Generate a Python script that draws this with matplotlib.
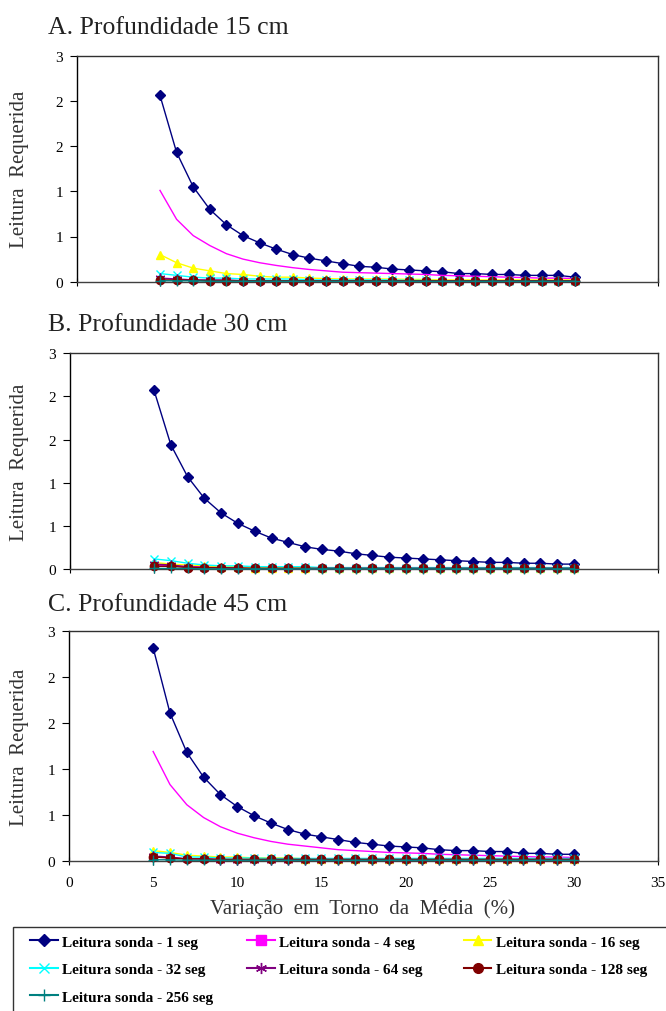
import numpy as np
import matplotlib
matplotlib.use("Agg")
import matplotlib.pyplot as plt
from matplotlib.lines import Line2D
from matplotlib.patches import Rectangle
from matplotlib.ticker import FuncFormatter, MultipleLocator

plt.rcParams['font.family'] = ['Liberation Serif', 'DejaVu Serif']

# ---------------- data ----------------
X = [5, 6, 7, 8, 9, 10, 11, 12, 13, 14, 15, 16, 17, 18, 19, 20,
     21, 22, 23, 24, 25, 26, 27, 28, 29, 30]

series_names = ["Leitura sonda - 1 seg", "Leitura sonda - 4 seg", "Leitura sonda - 16 seg",
                "Leitura sonda - 32 seg", "Leitura sonda - 64 seg", "Leitura sonda - 128 seg",
                "Leitura sonda - 256 seg"]

panel_titles = ["A. Profundidade 15 cm", "B. Profundidade 30 cm", "C. Profundidade 45 cm"]

# Panel A - 15 cm
A_1 = [2.06, 1.43, 1.05, 0.80, 0.63, 0.51, 0.43, 0.36, 0.30, 0.26, 0.23, 0.20, 0.17, 0.16, 0.14, 0.13,
       0.12, 0.11, 0.09, 0.09, 0.08, 0.08, 0.07, 0.07, 0.07, 0.05]
A_4 = [1.01, 0.69, 0.51, 0.40, 0.31, 0.25, 0.21, 0.18, 0.155, 0.135, 0.12, 0.105, 0.10, 0.095, 0.09, 0.085,
       0.08, 0.07, 0.065, 0.06, 0.055, 0.05, 0.045, 0.04, 0.04, 0.035]
A_16 = [0.30, 0.21, 0.15, 0.12, 0.09, 0.08, 0.06, 0.05, 0.05, 0.04, 0.035, 0.03, 0.03, 0.03, 0.03, 0.025,
        0.025, 0.02, 0.02, 0.02, 0.02, 0.02, 0.02, 0.02, 0.02, 0.02]
A_32 = [0.09, 0.07, 0.05, 0.04, 0.04, 0.03, 0.03, 0.03, 0.03, 0.02, 0.02, 0.02, 0.02, 0.02, 0.02, 0.015,
        0.015, 0.01, 0.01, 0.01, 0.01, 0.01, 0.01, 0.01, 0.01, 0.01]
A_64 = [0.04, 0.03, 0.02, 0.02, 0.02, 0.01, 0.01, 0.01, 0.01, 0.01, 0.01, 0.01, 0.01, 0.01, 0.01, 0.01,
        0.01, 0.01, 0.01, 0.01, 0.01, 0.01, 0.01, 0.01, 0.01, 0.01]
A_128 = [0.02, 0.02, 0.015, 0.01, 0.01, 0.01, 0.01, 0.01, 0.01, 0.01, 0.01, 0.01, 0.01, 0.01, 0.01, 0.01,
         0.01, 0.01, 0.01, 0.01, 0.01, 0.01, 0.01, 0.01, 0.01, 0.01]
A_256 = [0.01, 0.01, 0.01, 0.005, 0.005, 0.005, 0.005, 0.005, 0.005, 0.005, 0.005, 0.005, 0.005, 0.005, 0.005, 0.005,
         0.005, 0.005, 0.005, 0.005, 0.005, 0.005, 0.005, 0.005, 0.005, 0.005]

# Panel B - 30 cm
B_1 = [2.07, 1.44, 1.07, 0.82, 0.65, 0.53, 0.44, 0.36, 0.31, 0.26, 0.23, 0.21, 0.18, 0.16, 0.14, 0.13,
       0.12, 0.11, 0.10, 0.09, 0.08, 0.08, 0.07, 0.07, 0.06, 0.06]
B_4 = [0.05, 0.04, 0.03, 0.03, 0.02, 0.02, 0.02, 0.01, 0.01, 0.01, 0.01, 0.01, 0.01, 0.01, 0.01, 0.01,
       0.01, 0.01, 0.01, 0.01, 0.01, 0.01, 0.01, 0.01, 0.01, 0.01]
B_16 = [0.08, 0.06, 0.05, 0.04, 0.03, 0.03, 0.02, 0.02, 0.02, 0.02, 0.015, 0.015, 0.015, 0.015, 0.015, 0.015,
        0.015, 0.015, 0.015, 0.015, 0.015, 0.015, 0.015, 0.015, 0.015, 0.015]
B_32 = [0.12, 0.10, 0.07, 0.05, 0.04, 0.04, 0.03, 0.03, 0.03, 0.03, 0.02, 0.02, 0.02, 0.02, 0.02, 0.02,
        0.02, 0.02, 0.02, 0.02, 0.02, 0.02, 0.02, 0.02, 0.02, 0.02]
B_64 = [0.06, 0.05, 0.03, 0.02, 0.02, 0.01, 0.01, 0.01, 0.01, 0.01, 0.01, 0.01, 0.01, 0.01, 0.01, 0.01,
        0.01, 0.01, 0.01, 0.01, 0.01, 0.01, 0.01, 0.01, 0.01, 0.01]
B_128 = [0.035, 0.035, 0.02, 0.02, 0.015, 0.015, 0.01, 0.01, 0.01, 0.01, 0.01, 0.01, 0.01, 0.01, 0.01, 0.01,
         0.01, 0.01, 0.01, 0.01, 0.01, 0.01, 0.01, 0.01, 0.01, 0.01]
B_256 = [0.01, 0.01, 0.01, 0.005, 0.005, 0.005, 0.005, 0.005, 0.005, 0.005, 0.005, 0.005, 0.005, 0.005, 0.005, 0.005,
         0.005, 0.005, 0.005, 0.005, 0.005, 0.005, 0.005, 0.005, 0.005, 0.005]

# Panel C - 45 cm
C_1 = [2.32, 1.61, 1.18, 0.91, 0.72, 0.59, 0.49, 0.41, 0.34, 0.29, 0.26, 0.23, 0.20, 0.18, 0.16, 0.15,
       0.14, 0.12, 0.11, 0.11, 0.10, 0.10, 0.08, 0.08, 0.07, 0.07]
C_4 = [1.19, 0.83, 0.61, 0.47, 0.37, 0.30, 0.25, 0.21, 0.18, 0.16, 0.14, 0.12, 0.11, 0.10, 0.09, 0.085,
       0.08, 0.07, 0.065, 0.06, 0.055, 0.05, 0.045, 0.04, 0.04, 0.035]
C_16 = [0.11, 0.09, 0.06, 0.05, 0.04, 0.04, 0.03, 0.03, 0.03, 0.02, 0.02, 0.02, 0.02, 0.02, 0.02, 0.02,
        0.02, 0.02, 0.02, 0.02, 0.02, 0.02, 0.02, 0.02, 0.02, 0.02]
C_32 = [0.09, 0.08, 0.04, 0.04, 0.03, 0.03, 0.03, 0.025, 0.025, 0.025, 0.025, 0.025, 0.025, 0.025, 0.025, 0.025,
        0.025, 0.025, 0.025, 0.025, 0.025, 0.025, 0.025, 0.025, 0.025, 0.025]
C_64 = [0.05, 0.04, 0.02, 0.02, 0.01, 0.01, 0.01, 0.01, 0.01, 0.01, 0.01, 0.01, 0.01, 0.01, 0.01, 0.01,
        0.01, 0.01, 0.01, 0.01, 0.01, 0.01, 0.01, 0.01, 0.01, 0.01]
C_128 = [0.04, 0.03, 0.02, 0.02, 0.015, 0.015, 0.015, 0.015, 0.015, 0.015, 0.015, 0.015, 0.015, 0.015, 0.015, 0.015,
         0.015, 0.015, 0.015, 0.015, 0.015, 0.015, 0.015, 0.015, 0.015, 0.015]
C_256 = [0.01, 0.01, 0.005, 0.005, 0.005, 0.005, 0.005, 0.005, 0.005, 0.005, 0.005, 0.005, 0.005, 0.005, 0.005, 0.005,
         0.005, 0.005, 0.005, 0.005, 0.005, 0.005, 0.005, 0.005, 0.005, 0.005]

panels = [
    [A_1, A_4, A_16, A_32, A_64, A_128, A_256],
    [B_1, B_4, B_16, B_32, B_64, B_128, B_256],
    [C_1, C_4, C_16, C_32, C_64, C_128, C_256],
]

# ---------------- styles ----------------
colors = ['#000080', '#FF00FF', '#FFFF00', '#00FFFF', '#800080', '#800000', '#008080']
markers = ['D', 's', '^', 'x', (6, 2, 0), 'o', '+']
plot_markers = [True, False, True, True, True, True, True]
msizes = [5.5, 6, 6, 6, 7, 6, 7]

W, H = 666, 1012
fig = plt.figure(figsize=(W / 100, H / 100), dpi=100)

# axes boxes in pixels: left, right, top, bottom
boxes = [(77, 658, 56.7, 282.7), (70, 658, 354, 570.3), (69, 658, 632.3, 861.7)]
title_baselines = [34, 331, 611]

def fmt(v, pos):
    return str(int(np.floor(v + 0.5 + 1e-9)))

for i, (data, box) in enumerate(zip(panels, boxes)):
    l, r, t, b = box
    ax = fig.add_axes([l / W, 1 - b / H, (r - l) / W, (b - t) / H])
    for j, ys in enumerate(data):
        kw = dict(color=colors[j], lw=1.0, zorder=2 + j, clip_on=False)
        if plot_markers[j]:
            m = markers[j]
            if m in ('x', '+', (6, 2, 0)):
                kw.update(marker=m, markersize=msizes[j], markeredgewidth=1.0)
            else:
                kw.update(marker=m, markersize=msizes[j], markerfacecolor=colors[j],
                          markeredgecolor=colors[j])
        ax.plot(X, ys, **kw)
    ax.set_xlim(0, 35)
    ax.set_ylim(0, 2.5)
    ax.xaxis.set_major_locator(MultipleLocator(5))
    ax.yaxis.set_major_locator(MultipleLocator(0.5))
    ax.yaxis.set_major_formatter(FuncFormatter(fmt))
    ax.tick_params(axis='y', direction='out', length=5, width=0.8, labelsize=11, pad=5, colors='black')
    ax.tick_params(axis='x', direction='inout', length=6, width=0.8, labelsize=11, pad=8)
    if i < 2:
        ax.tick_params(axis='x', labelbottom=False)
    ax.spines['left'].set_color('black')
    ax.spines['bottom'].set_color('#404040')
    ax.spines['top'].set_color('#303030')
    ax.spines['right'].set_color('#303030')
    for s in ax.spines.values():
        s.set_linewidth(1.0)
    fig.text(20 / W, 1 - ((t + b) / 2) / H, "Leitura  Requerida", fontsize=15, color='#333333',
             rotation=90, ha='center', va='center')
    fig.text(48 / W, 1 - title_baselines[i] / H, panel_titles[i], fontsize=18.5,
             ha='left', va='baseline', color='#222222')

fig.text(362 / W, 1 - 914 / H, "Variação  em  Torno  da  Média  (%)", fontsize=15,
         color='#333333', ha='center', va='baseline')

# legend frame
fig.patches.append(Rectangle((13 / W, -0.05), 1.0, 1 - 928 / H + 0.05, transform=fig.transFigure,
                             fill=False, edgecolor='#333333', linewidth=1.0))

handles = []
for j in range(7):
    m = markers[j]
    kw = dict(color=colors[j], lw=1.5, marker=m, markersize=msizes[j] + 1)
    if m not in ('x', '+', (6, 2, 0)):
        kw.update(markerfacecolor=colors[j], markeredgecolor=colors[j])
    else:
        kw.update(markeredgewidth=1.0)
    handles.append(Line2D([0], [0], **kw))

columns = [[0, 3, 6], [1, 4], [2, 5]]
col_x = [30, 247, 464]
for cx, col in zip(col_x, columns):
    fig.legend([handles[k] for k in col], [series_names[k] for k in col],
               loc='upper left', bbox_to_anchor=(cx / W, 1 - 936 / H), ncol=1,
               frameon=False, prop={'family': 'Liberation Serif', 'weight': 'bold', 'size': 11},
               handlelength=1.8, handletextpad=0.3, labelspacing=0.9,
               borderaxespad=0, borderpad=0)

fig.savefig("out.png", dpi=100)
